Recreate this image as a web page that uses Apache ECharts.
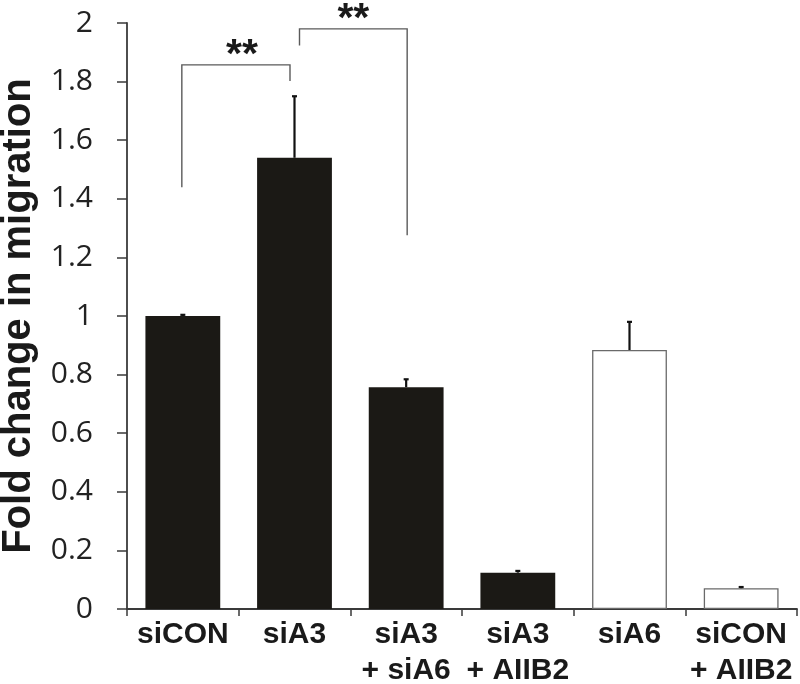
<!DOCTYPE html>
<html>
<head>
<meta charset="utf-8">
<script src="https://cdn.jsdelivr.net/npm/echarts@6/dist/echarts.min.js"></script>
<style>
  html, body { margin: 0; padding: 0; background: #ffffff; }
  #chart { width: 800px; height: 684px; }
</style>
</head>
<body>
<div id="chart"></div>
<script>
// ---- data ----
const categories = ['siCON', 'siA3', 'siA3\n+ siA6', 'siA3\n+ AIIB2', 'siA6', 'siCON\n+ AIIB2'];
const values = [1.00, 1.54, 0.757, 0.124, 0.884, 0.071];
const errors = [0.004, 0.21, 0.027, 0.006, 0.096, 0.004];
const filled = [true, true, true, true, false, false];
const yMin = 0;
const yMax = 2;
const yInterval = 0.2;
const yTitle = 'Fold change in migration';
// significance brackets: [fromIndex, toIndex, topValue, leftLegEnd, rightLegEnd]
const brackets = [
  [0, 1, 1.857, 1.439, 1.802],
  [1, 2, 1.98, 1.923, 1.276]
];
const bracketLabels = ['**', '**'];

// ---- chart ----
const chart = echarts.init(document.getElementById('chart'), null, { renderer: 'canvas' });

const barData = values.map((v, i) => ({
  value: v,
  itemStyle: filled[i]
    ? { color: '#1b1915', borderColor: '#1b1915', borderWidth: 0 }
    : { color: '#ffffff', borderColor: '#6a6a6a', borderWidth: 1.3 }
}));

const option = {
  animation: false,
  backgroundColor: '#ffffff',
  grid: { left: 127, right: 3, top: 23, bottom: 75, containLabel: false, outerBoundsMode: 'none' },
  xAxis: {
    type: 'category',
    data: categories,
    boundaryGap: true,
    axisLine: { show: true, lineStyle: { color: '#3a3a3a', width: 1.8 } },
    axisTick: { show: true, alignWithLabel: false, inside: false, length: 7, lineStyle: { color: '#3a3a3a', width: 1.5 } },
    axisLabel: {
      interval: 0,
      margin: 8,
      color: '#1a1a1a',
      fontFamily: 'Liberation Sans, Arial, sans-serif',
      fontWeight: 'bold',
      fontSize: 30,
      lineHeight: 36
    },
    splitLine: { show: false }
  },
  yAxis: {
    type: 'value',
    min: yMin,
    max: yMax,
    interval: yInterval,
    name: yTitle,
    nameLocation: 'middle',
    nameGap: 88,
    nameRotate: 90,
    nameTextStyle: {
      color: '#1a1a1a',
      fontFamily: 'Liberation Sans, Arial, sans-serif',
      fontWeight: 'bold',
      fontSize: 40
    },
    axisLine: { show: true, lineStyle: { color: '#3a3a3a', width: 1.8 } },
    axisTick: { show: true, inside: false, length: 10, lineStyle: { color: '#3a3a3a', width: 1.5 } },
    axisLabel: {
      margin: 34,
      color: '#222222',
      fontFamily: 'Open Sans, sans-serif',
      fontSize: 30
    },
    splitLine: { show: false }
  },
  series: [
    {
      type: 'bar',
      data: barData,
      barWidth: '67%',
      z: 2
    },
    {
      type: 'custom',
      z: 5,
      data: categories.map((c, i) => [i, values[i], errors[i]]),
      renderItem: function (params, api) {
        const idx = api.value(0);
        const v = api.value(1);
        const e = api.value(2);
        const p0 = api.coord([idx, v]);
        const p1 = api.coord([idx, v + e]);
        const capHalf = 2.5;
        return {
          type: 'group',
          children: [
            { type: 'line', shape: { x1: p0[0], y1: p0[1], x2: p1[0], y2: p1[1] },
              style: { stroke: '#111', lineWidth: 2.2 } },
            { type: 'line', shape: { x1: p1[0] - capHalf, y1: p1[1], x2: p1[0] + capHalf, y2: p1[1] },
              style: { stroke: '#111', lineWidth: 2.2 } }
          ]
        };
      }
    },
    {
      type: 'custom',
      z: 6,
      data: brackets,
      renderItem: function (params, api) {
        const i = params.dataIndex;
        const from = api.value(0), to = api.value(1);
        const top = api.value(2), lEnd = api.value(3), rEnd = api.value(4);
        const insetL = i === 1 ? 5 : -1;
        const insetR = i === 0 ? -4.5 : 1;
        const a = api.coord([from, top]);
        const b = api.coord([to, top]);
        const xl = a[0] + insetL;
        const xr = b[0] + insetR;
        const yt = a[1];
        const yl = api.coord([from, lEnd])[1];
        const yr = api.coord([to, rEnd])[1];
        const stroke = { stroke: '#5a5a5a', lineWidth: 1.4 };
        return {
          type: 'group',
          children: [
            { type: 'polyline', shape: { points: [[xl, yl], [xl, yt], [xr, yt], [xr, yr]] }, style: Object.assign({ fill: null }, stroke) },
            { type: 'text', style: {
                text: bracketLabels[i], x: (xl + xr) / 2 + (i === 0 ? 6 : 0), y: yt - 9,
                align: 'center', verticalAlign: 'middle',
                font: 'bold 41px "Liberation Sans", Arial, sans-serif', fill: '#1a1a1a' } }
          ]
        };
      }
    }
  ]
};

chart.setOption(option);
</script>
</body>
</html>
